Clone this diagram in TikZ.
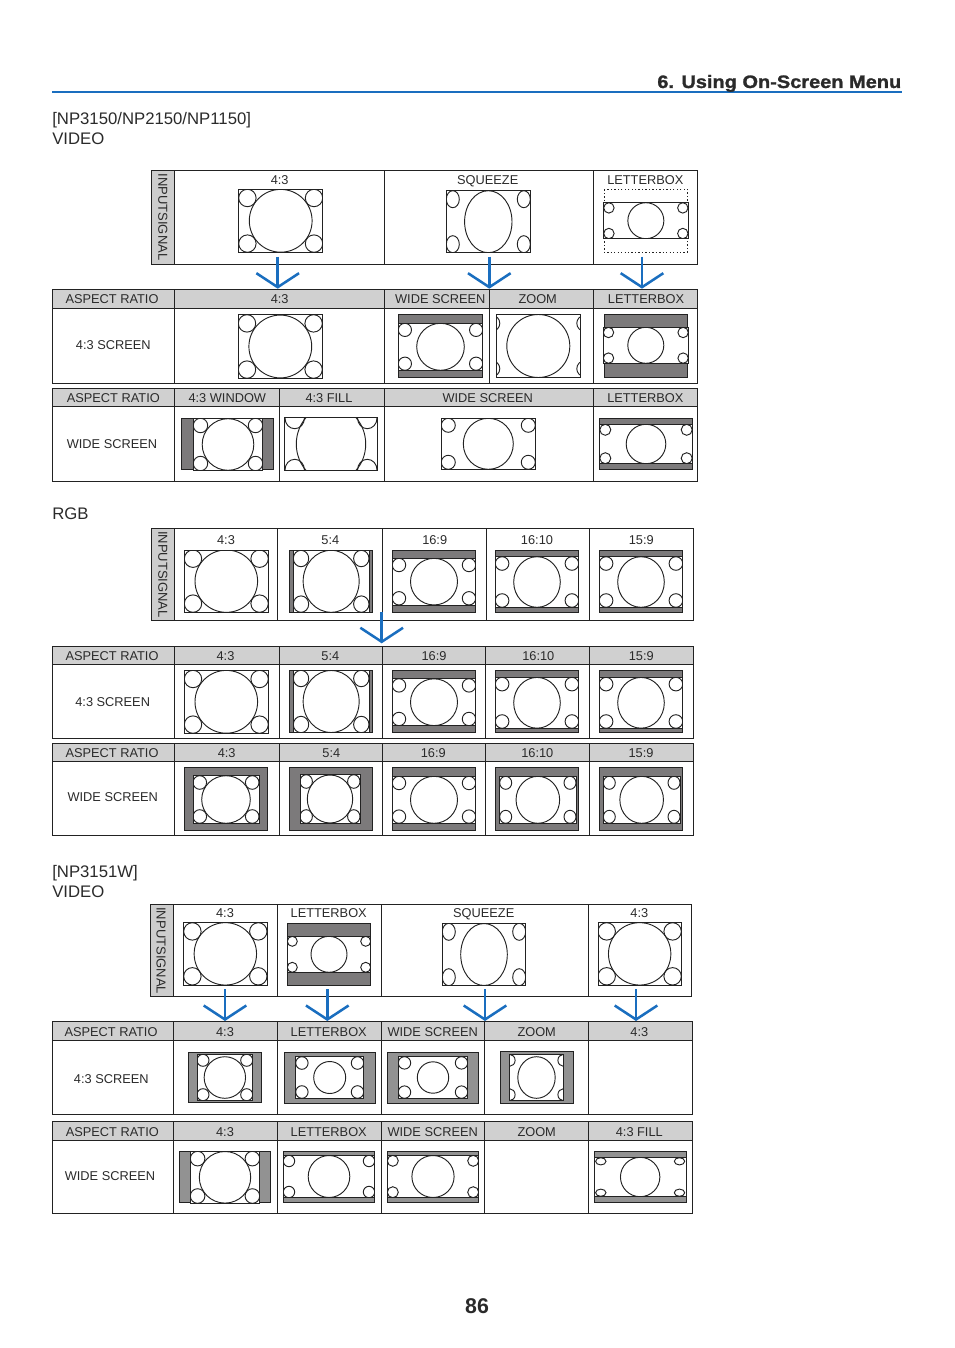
\documentclass[tikz,border=0pt]{standalone}
\usepackage{fontspec}
\setmainfont{Liberation Sans}
\newfontfamily\titlefont{Liberation Sans}[FakeStretch=1.11,BoldFeatures={FakeBold=1.3}]
\usetikzlibrary{arrows.meta}
\definecolor{txt}{HTML}{2A2A2A}
\definecolor{line}{HTML}{222222}
\definecolor{hdr}{HTML}{D0D0D0}
\definecolor{sideg}{HTML}{CDCDCD}
\definecolor{blue1}{HTML}{1A6EBF}
\definecolor{imgA}{HTML}{7C7A7B}
\definecolor{imgB}{HTML}{929292}
\colorlet{imgfill}{imgA}
\tikzset{
  lab/.style={font=\fontsize{9.6}{11}\selectfont,anchor=base,inner sep=0pt,text=txt},
  sect/.style={font=\fontsize{12.55}{15}\selectfont,anchor=base west,inner sep=0pt,text=txt},
  grid/.style={draw=line,line width=0.75pt},
  imgline/.style={draw=line,line width=0.7pt},
  sigarrow/.style={draw=blue1,line width=1.9pt,-{Straight Barb[length=10.5pt,width=32pt,line width=1.9pt]}},
}
\newcount\lblno
\newcount\arrno
\newcommand\lbl[3]{\global\advance\lblno by 1\node[lab] (t\the\lblno) at (#1,{#2+0.7}) {#3};}
\newcommand\sideL[2]{\global\advance\lblno by 1\node[lab,anchor=center,rotate=-90,font=\fontsize{9.75}{11}\selectfont] (t\the\lblno) at (#1,#2) {INPUTSIGNAL};}
% outer rect, inner rect, big radii, then small radii + insets
\def\scrimg(#1,#2,#3,#4)(#5,#6,#7,#8){%
  \def\ixa{#5}\def\iya{#6}\def\ixb{#7}\def\iyb{#8}%
  \fill[imgfill,imgline] (#1,#2) rectangle (#3,#4);
  \fill[white,imgline] (#5,#6) rectangle (#7,#8);
  \scrimgb}
\def\scrimgb(#1,#2)(#3,#4,#5,#6){%
  \begin{scope}
    \clip (\ixa,\iya) rectangle (\ixb,\iyb);
    \draw[imgline] ({(\ixa+\ixb)/2},{(\iya+\iyb)/2}) ellipse [x radius=#1,y radius=#2];
    \draw[imgline] ({\ixa+#5},{\iya+#6}) ellipse [x radius=#3,y radius=#4];
    \draw[imgline] ({\ixb-#5},{\iya+#6}) ellipse [x radius=#3,y radius=#4];
    \draw[imgline] ({\ixa+#5},{\iyb-#6}) ellipse [x radius=#3,y radius=#4];
    \draw[imgline] ({\ixb-#5},{\iyb-#6}) ellipse [x radius=#3,y radius=#4];
  \end{scope}
  \draw[imgline] (\ixa,\iya) rectangle (\ixb,\iyb);}
% table: x0,x1,ytop,yheader,ybottom,{verticals}
\newcommand\tbl[6]{%
  \fill[hdr] (#1,#3) rectangle (#2,#4);
  \draw[grid] (#1,#3) rectangle (#2,#5);
  \draw[grid] (#1,#4) -- (#2,#4);
  \foreach \v in {#6} {\draw[grid] (\v,#3) -- (\v,#5);}}
% input row: x0,xgray,x1,ytop,ybottom,{verticals}
\newcommand\inrow[6]{%
  \fill[sideg] (#1,#4) rectangle (#2,#5);
  \draw[grid] (#1,#4) rectangle (#3,#5);
  \foreach \v in {#2,#6} {\draw[grid] (\v,#4) -- (\v,#5);}}
% arrow between free coordinates
\newcommand\sigarr[3]{\global\advance\arrno by 1
  \coordinate (as\the\arrno) at (#1,#2);
  \coordinate (ae\the\arrno) at (#1,#3);
  \draw[sigarrow] (as\the\arrno) -- (ae\the\arrno);}
\begin{document}
\begin{tikzpicture}[x=0.75pt,y=-0.75pt]
\useasboundingbox (0,0) rectangle (954,1348);
% page head
\coordinate (hl) at (52,92);
\coordinate (hr) at (902,92);
\draw[blue1,line width=1.5pt] (hl) -- (hr);
\node[anchor=base east,inner sep=0pt,text=txt,font=\titlefont\bfseries\fontsize{13.5}{16}\selectfont] (title) at (901.5,88) {6. Using On-Screen Menu};
\node[sect] (s1a) at (52,124.8) {[NP3150/NP2150/NP1150]};
\node[sect] (s1b) at (52,144.3) {VIDEO};
\node[sect] (s2a) at (52,519) {RGB};
\node[sect] (s3a) at (52,877) {[NP3151W]};
\node[sect] (s3b) at (52,897) {VIDEO};
\node[anchor=base,inner sep=0pt,text=txt,font=\bfseries\fontsize{16}{18}\selectfont] (pg) at (477,1313) {86};

%%%% SECTION 1
\inrow{151.3}{174.7}{697.3}{170.3}{264.3}{384.3,593.7}
\tbl{52.7}{697.3}{289.7}{308.3}{383.3}{174.7,384.3,489.3,593.7}
\tbl{52.7}{697.3}{388.7}{406.7}{481.3}{174.7,279.3,384.3,593.7}
\sideL{162.8}{217}
\lbl{279.7}{184}{4:3}\lbl{487.7}{184}{SQUEEZE}\lbl{645.3}{184}{LETTERBOX}
\lbl{112}{302.7}{ASPECT RATIO}\lbl{279.7}{302.7}{4:3}\lbl{440.3}{302.7}{WIDE SCREEN}\lbl{537.7}{302.7}{ZOOM}\lbl{646}{302.7}{LETTERBOX}
\lbl{113.3}{348.3}{4:3 SCREEN}
\lbl{113.3}{402}{ASPECT RATIO}\lbl{227.3}{402}{4:3 WINDOW}\lbl{329}{402}{4:3 FILL}\lbl{487.7}{402}{WIDE SCREEN}\lbl{645.3}{402}{LETTERBOX}
\lbl{112}{447.3}{WIDE SCREEN}
% input
\scrimg(238.7,189.3,322.7,252.3)(238.7,189.3,322.7,252.3)(31.4,31.4)(8.7,8.7,8.7,8.7)
\scrimg(446.3,190.7,530.3,252.7)(446.3,190.7,530.3,252.7)(23.7,31)(6.5,8.5,6.5,8.5)
\draw[line,line width=0.7pt,dash pattern=on 1pt off 1.6pt] (604.3,189.3) rectangle (687.3,252.3);
\scrimg(603.7,202.7,688,238.7)(603.7,202.7,688,238.7)(18,18)(5.2,5.2,5.2,5.2)
% 4:3 screen
\scrimg(238.3,314.7,322.3,378.3)(238.3,314.7,322.3,378.3)(31.4,31.4)(8.7,8.7,8.7,8.7)
\scrimg(398.3,314.3,482.7,377.7)(398.3,323.3,482.7,370.3)(23.8,23.5)(6.6,6.6,6.6,6.6)
\scrimg(496.3,314.3,580.3,377.7)(496.3,314.3,580.3,377.7)(31.5,31.5)(8,8,-4.5,9)
\scrimg(604.3,314.3,687.3,377.7)(603.3,327.3,688.3,363.3)(18,18)(5.2,5.2,5.2,5.2)
% wide screen
\scrimg(181.3,418.3,273.7,469.7)(193.3,418.3,262.7,470.7)(25.8,25.8)(7.2,7.2,7.2,7.2)
\scrimg(284.7,417.7,377.3,470.3)(284.7,417.7,377.3,470.3)(34.7,38)(9.7,10.5,10,0.5)
\scrimg(441.3,418.3,535.3,469.3)(441.3,418.3,535.3,469.3)(25,25.5)(7,7,7,7)
\scrimg(599.3,418.3,692.7,469.7)(599.3,424.3,692.7,463.7)(19.8,19.7)(5.5,5.5,6,5.5)
\sigarr{277.7}{256.7}{288.7}\sigarr{489.3}{256.7}{288.7}\sigarr{642}{256.7}{288.7}

%%%% SECTION 2
\inrow{151.3}{174.7}{693.3}{528.7}{620}{277.3,382.3,486.3,589.3}
\tbl{52.7}{693.3}{646.3}{664.3}{738.3}{174.7,279.3,382.3,485.3,589.3}
\tbl{52.7}{693.3}{743.7}{761.3}{835.3}{174.7,279.3,382.3,485.3,589.3}
\sideL{162.8}{574.5}
\lbl{226}{544}{4:3}\lbl{330.3}{544}{5:4}\lbl{434.7}{544}{16:9}\lbl{537}{544}{16:10}\lbl{641.3}{544}{15:9}
\lbl{112}{660}{ASPECT RATIO}\lbl{225.5}{660}{4:3}\lbl{330.3}{660}{5:4}\lbl{434}{660}{16:9}\lbl{538.3}{660}{16:10}\lbl{641.3}{660}{15:9}
\lbl{112.7}{705.7}{4:3 SCREEN}
\lbl{112}{757}{ASPECT RATIO}\lbl{226.7}{757}{4:3}\lbl{331.3}{757}{5:4}\lbl{433.3}{757}{16:9}\lbl{537.3}{757}{16:10}\lbl{641}{757}{15:9}
\lbl{112.7}{800.7}{WIDE SCREEN}
% input
\scrimg(184.3,550,268.3,612.3)(184.3,550,268.3,612.3)(31.3,31.2)(8.7,8.7,8.7,8.7)
\scrimg(289.3,550.3,372.7,612.3)(293.3,550.3,369,612.3)(28,31)(7.7,8.2,7.7,8.2)
\scrimg(392.3,550.3,475.7,612.7)(392.3,558.3,475.7,605)(23.5,23.3)(6.7,6.7,6.7,6.7)
\scrimg(495.3,550.3,578.7,612.7)(495.3,556.7,578.7,607.3)(23.3,25.3)(6.8,6.8,6.8,6.8)
\scrimg(599.3,550.3,682.7,612.7)(599.3,556.7,682.7,607.3)(23.3,25.3)(6.8,6.8,6.8,6.8)
% 4:3
\scrimg(184.3,670.3,268.3,733.3)(184.3,670.3,268.3,733.3)(31.3,31.4)(8.7,8.7,8.7,8.7)
\scrimg(289.3,670.3,372.7,732.7)(293.3,670.3,369,732.7)(28,31)(7.7,8.2,7.7,8.2)
\scrimg(392.3,670.3,475.7,732.7)(392.3,678.7,475.7,725.7)(23.5,23.4)(6.7,6.7,6.7,6.7)
\scrimg(495.3,670.3,578.7,732.7)(495.3,677.3,578.7,728.3)(23.3,25.4)(6.8,6.8,6.8,6.8)
\scrimg(599.3,670.3,682.7,732.7)(599.3,677.3,682.7,728.3)(23.3,25.4)(6.8,6.8,6.8,6.8)
% wide
\scrimg(184.3,767.3,267.7,830.7)(193,775.7,259,823.3)(24.3,23.8)(6.8,6.8,6.8,6.8)
\scrimg(289.3,767.3,372.7,830.7)(300,774.7,360,823.3)(22.7,24)(6.2,6.8,6.2,6.8)
\scrimg(392.3,767.3,475.7,830.7)(392.3,776.3,475.7,823.3)(23.5,23.5)(6.7,6.7,6.7,6.7)
\scrimg(495.3,767.3,578.7,830.7)(499.7,776.3,576,823.3)(21.8,23.5)(6,6.5,6,6.5)
\scrimg(599.3,767.3,682.7,830.7)(603.3,776.3,680,823.3)(21.8,23.5)(6,6.5,6,6.5)
\sigarr{381.7}{611.7}{643.3}

%%%% SECTION 3
\inrow{150.3}{173.3}{691.7}{904}{996.3}{277.3,381,588.3}
\tbl{52.7}{692.3}{1021.7}{1040.3}{1114.3}{173.3,277.3,381,484.7,588.3}
\tbl{52.7}{692.3}{1121.7}{1140.3}{1213.3}{173.3,277.3,381,484.7,588.3}
\sideL{161}{950.7}
\lbl{225}{916.7}{4:3}\lbl{328.7}{916.7}{LETTERBOX}\lbl{483.7}{916.7}{SQUEEZE}\lbl{639.3}{916.7}{4:3}
\lbl{111}{1036}{ASPECT RATIO}\lbl{225}{1036}{4:3}\lbl{328.7}{1036}{LETTERBOX}\lbl{432.7}{1036}{WIDE SCREEN}\lbl{536.7}{1036}{ZOOM}\lbl{639.3}{1036}{4:3}
\lbl{111.3}{1082.3}{4:3 SCREEN}
\lbl{112.3}{1136}{ASPECT RATIO}\lbl{225}{1136}{4:3}\lbl{328.7}{1136}{LETTERBOX}\lbl{432.7}{1136}{WIDE SCREEN}\lbl{536.7}{1136}{ZOOM}\lbl{639.3}{1136}{4:3 FILL}
\lbl{110}{1180}{WIDE SCREEN}
% input
\scrimg(183.7,922.7,267,985)(183.7,922.7,267,985)(31.2,31.2)(8.7,8.7,8.7,8.7)
\scrimg(287.3,923.3,370.7,985.7)(287.3,936.3,370.7,972.3)(18,18)(5,5,5,5)
\scrimg(442.3,923.3,525.7,985.7)(442.3,923.3,525.7,985.7)(23.3,31)(6.5,8.5,6.5,8.5)
\scrimg(598,922.7,681.3,985)(598,922.7,681.3,985)(31.2,31.2)(8.7,8.7,8.7,8.7)
\colorlet{imgfill}{imgB}
% 4:3
\scrimg(188.3,1052.7,261.7,1102.3)(197,1054.3,252.7,1100.7)(20.7,20.8)(6,6,6,6)
\scrimg(284.3,1052.7,375.7,1103.7)(295.7,1056.7,363.7,1098.3)(16,16)(6.2,6.3,6.2,6.3)
\scrimg(387.3,1052.7,478.7,1103.7)(398.3,1056.7,467.7,1098.3)(15.7,15.7)(6.2,6.2,6.2,6.2)
\scrimg(500.3,1051.3,573.7,1103.7)(509.3,1054.3,563.7,1100.7)(18.7,20.8)(5.5,6,0.3,6)
% wide
\scrimg(179.3,1151.3,270.7,1202.3)(190.3,1151.3,259.7,1203.3)(25.7,25.8)(7.3,7.3,7.3,7.3)
\scrimg(283.3,1151.3,374.7,1202.3)(283.3,1155.3,374.7,1197.7)(20.8,21)(5.7,5.7,5.7,5.7)
\scrimg(387.3,1151.3,478.7,1202.3)(387.3,1155.3,478.7,1197.7)(21.1,21)(5.5,5.5,5.5,5.5)
\scrimg(594.3,1151.3,686.7,1202.3)(594.3,1157.3,686,1196.7)(19.7,19.7)(5.2,3.6,6.5,4)
\sigarr{225}{989}{1021}\sigarr{327.3}{989}{1021}\sigarr{485}{989}{1021}\sigarr{636}{989}{1021}
\end{tikzpicture}
\end{document}
